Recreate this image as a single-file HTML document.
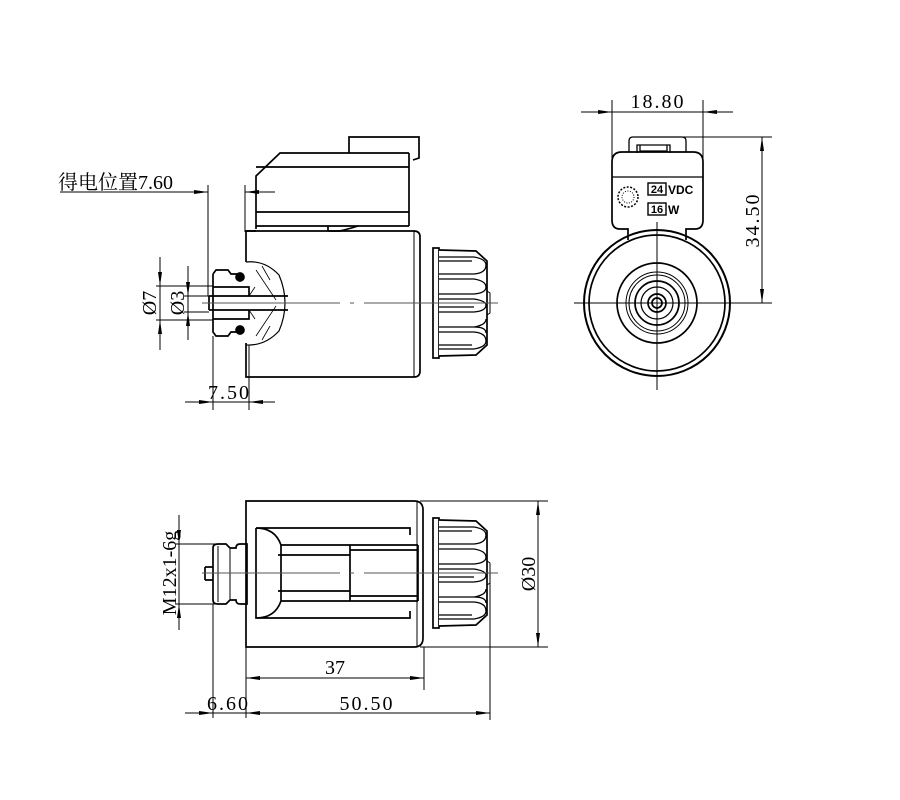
<!DOCTYPE html>
<html><head><meta charset="utf-8"><style>
html,body{margin:0;padding:0;background:#fff;}
svg{display:block;}
text{font-family:"Liberation Serif","Noto Serif CJK SC",serif;fill:#000;}
</style></head><body>
<svg width="900" height="800" viewBox="0 0 900 800" xmlns="http://www.w3.org/2000/svg">
<defs>
<marker id="a" viewBox="0 0 14 4" refX="14" refY="2" markerWidth="14" markerHeight="4" orient="auto-start-reverse" markerUnits="userSpaceOnUse"><path d="M0,0 L14,2 L0,4z" fill="#000"/></marker>
<g id="knob" fill="none" stroke="#000" stroke-width="1.7">
<rect x="433" y="-55" width="6" height="110" fill="#fff"/>
<path d="M439,-53 L476,-52 L487,-42 L487,42 L476,52 L439,53" fill="#fff"/>
<path d="M487,-12 L490,-10 L490,10 L487,12" stroke-width="1"/>
<path d="M439,-46 H474 M439,-42 H472 M439,-29 H474 M439,-24 H474 M439,-9 H474 M439,-4 H474 M439,9 H474 M439,4 H474 M439,24 H474 M439,29 H474 M439,42 H472 M439,46 H474" stroke-width="1.3"/>
<path d="M474,-46 Q486,-44 486,-38 M474,-29 Q486,-30 486,-38 M474,-24 Q486,-22 486,-16 M474,-9 Q486,-10 486,-16 M474,-4 Q486,-2 486,2 M474,9 Q486,8 486,2 M474,24 Q486,22 486,16 M474,29 Q486,30 486,38 M474,46 Q486,44 486,38 M474,24 Q486,24 486,30" stroke-width="1.3"/>
</g>
</defs>
<g fill="none" stroke="#000" stroke-width="1.7">
<!-- TOP-LEFT VIEW -->
<path d="M349,153 V137 H419 V158 L413,160"/>
<path d="M409,153 H280 L256,176 V229 M256,167 H409 M256,212 H409 M256,226 H409 M409,153 V226"/>
<path d="M246,236 V231 H256 M328,226 V231 M328,231 H340 Q352,228 358,226"/>
<path d="M246,231 H414 Q420,231 420,237 V371 Q420,377 414,377 H246 V343 M246,262 V236"/>
<path d="M414,231 V377" stroke-width="1"/>
<g transform="translate(0,303)"><use href="#knob"/></g>
<path d="M246,262 Q265,260 279,275 Q291,303 279,331 Q265,346 246,345" stroke-width="1.2"/>
<path d="M213,274 L216,270 H228 L231,274 H240 M213,274 V332 L216,336 H228 L231,332 H240" />
<path d="M213,287 H249 V296 M213,319 H249 V310 M209,296 H288 M209,310 H288 M209,296 V310"/>
<path d="M249,296 L255,287 M249,310 L255,319 M256,270 L276,300 M256,336 L276,306 M262,266 L270,280 M262,340 L270,326" stroke-width="0.8"/>
<circle cx="240" cy="277" r="4" fill="#000"/><circle cx="240" cy="330" r="4" fill="#000"/>
<path d="M202,303 H340 M350,303 H354 M364,303 H498" stroke="#555" stroke-width="1"/>
<g stroke-width="1">
<path d="M208,185 V296 M245,185 V232"/>
<path d="M60,192 H208" marker-end="url(#a)"/>
<path d="M275,192 H245" marker-end="url(#a)"/>
<path d="M156,286 H213 M156,320 H213 M184,296 H209 M184,312 H209"/>
<path d="M160,257 V286" marker-end="url(#a)"/><path d="M160,350 V320" marker-end="url(#a)"/>
<path d="M188,266 V296" marker-end="url(#a)"/><path d="M188,340 V312" marker-end="url(#a)"/>
<path d="M160,286 V320 M188,296 V312"/>
<path d="M213,336 V410 M249,345 V410"/>
<path d="M185,402 H213" marker-end="url(#a)"/><path d="M275,402 H249" marker-end="url(#a)"/>
<path d="M213,402 H249"/>
</g>
<!-- RIGHT VIEW -->
<path d="M629,152 V141 Q629,137 633,137 H682 Q686,137 686,141 V152 M637,153 V145 H670 V153 M640,145 V151 H667 V145" stroke-width="1.3"/>
<path d="M628,240 V229 H620 Q612,229 612,220 V162 Q612,152 622,152 H693 Q703,152 703,162 V220 Q703,229 695,229 H686 V240" stroke-width="1.7"/>
<path d="M612,177 H703" stroke-width="1.2"/>
<circle cx="657" cy="303" r="73" stroke-width="2"/><circle cx="657" cy="303" r="68"/>
<circle cx="657" cy="303" r="40"/><circle cx="657" cy="303" r="31" stroke-width="1"/><circle cx="657" cy="303" r="28" stroke-width="1"/>
<circle cx="657" cy="303" r="22"/><circle cx="657" cy="303" r="16" stroke-width="1.2"/><circle cx="657" cy="303" r="9"/><circle cx="657" cy="303" r="5"/>
<circle cx="628" cy="197" r="10" stroke-width="1.5" stroke-dasharray="2 1.5"/>
<circle cx="628" cy="197" r="6" stroke-width="1" stroke-dasharray="1 1.5"/>
<g stroke-width="1">
<path d="M574,303 H772 M657,222 V390"/>
<path d="M612,100 V177 M703,100 V177"/>
<path d="M581,112 H612" marker-end="url(#a)"/><path d="M733,112 H703" marker-end="url(#a)"/><path d="M612,112 H703"/>
<path d="M680,137 H772"/>
<path d="M762,220 V137" marker-end="url(#a)"/><path d="M762,220 V303" marker-end="url(#a)"/>
</g>
<rect x="648" y="183" width="18" height="12" stroke-width="1.4"/>
<rect x="648" y="203" width="18" height="12" stroke-width="1.4"/>
<!-- BOTTOM VIEW -->
<path d="M246,501 H414 Q423,501 423,510 V638 Q423,647 414,647 H246 Z"/>
<path d="M417,501 V647" stroke-width="1"/>
<path d="M256,528 H410 V535 M256,618 H410 V611 M256,528 Q275,528 281,545 V601 Q275,618 256,618 V528"/>
<path d="M281,545 H418 M281,601 H418 M278,555 H350 M278,591 H350 M350,545 V601 M350,550 H418 M350,596 H418 M418,545 V601"/>
<path d="M213,548 Q213,544 218,544 H226 L230,548 L236,548 Q236,544 240,544 H247 V604 H240 Q236,604 236,600 H230 L226,604 H218 Q213,604 213,600 Z"/>
<path d="M218,546 V602 M230,548 V600" stroke-width="1"/>
<path d="M205,567 H213 M205,580 H213 M205,567 V580" />
<g transform="translate(0,573)"><use href="#knob"/></g>
<path d="M202,573 H340 M350,573 H354 M364,573 H498" stroke="#555" stroke-width="1"/>
<g stroke-width="1">
<path d="M420,501 H548 M420,647 H548"/>
<path d="M538,574 V501" marker-end="url(#a)"/><path d="M538,574 V647" marker-end="url(#a)"/>
<path d="M175,544 H218 M175,604 H218"/>
<path d="M179,515 V544" marker-end="url(#a)"/><path d="M179,630 V604" marker-end="url(#a)"/><path d="M179,544 V604"/>
<path d="M424,647 V690 M246,647 V718 M213,604 V718 M490,580 V720"/>
<path d="M335,678 H246" marker-end="url(#a)"/><path d="M335,678 H424" marker-end="url(#a)"/>
<path d="M185,713 H213" marker-end="url(#a)"/><path d="M275,713 H246" marker-end="url(#a)"/>
<path d="M370,713 H490" marker-end="url(#a)"/><path d="M213,713 H370"/>
</g>
</g>
<text x="58" y="189" font-size="20">得电位置7.60</text>
<text x="208" y="399" font-size="20" letter-spacing="2">7.50</text>
<text transform="translate(156,303) rotate(-90)" font-size="20" text-anchor="middle">Ø7</text>
<text transform="translate(184,303) rotate(-90)" font-size="20" text-anchor="middle">Ø3</text>
<text x="658" y="108" font-size="20" text-anchor="middle" letter-spacing="2">18.80</text>
<text transform="translate(759,220) rotate(-90)" font-size="20" text-anchor="middle" letter-spacing="2">34.50</text>
<text x="657" y="193" font-size="11" font-weight="bold" text-anchor="middle" style="font-family:'Liberation Sans',sans-serif">24</text>
<text x="668" y="194" font-size="12" font-weight="bold" style="font-family:'Liberation Sans',sans-serif">VDC</text>
<text x="657" y="213" font-size="11" font-weight="bold" text-anchor="middle" style="font-family:'Liberation Sans',sans-serif">16</text>
<text x="668" y="214" font-size="12" font-weight="bold" style="font-family:'Liberation Sans',sans-serif">W</text>
<text transform="translate(176,573) rotate(-90)" font-size="20" text-anchor="middle">M12x1-6g</text>
<text transform="translate(535,574) rotate(-90)" font-size="20" text-anchor="middle">Ø30</text>
<text x="335" y="674" font-size="20" text-anchor="middle">37</text>
<text x="207" y="710" font-size="20" letter-spacing="2">6.60</text>
<text x="367" y="710" font-size="20" text-anchor="middle" letter-spacing="2">50.50</text>
</svg>
</body></html>
